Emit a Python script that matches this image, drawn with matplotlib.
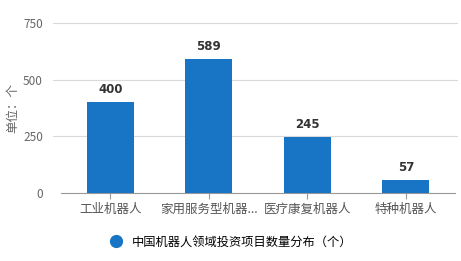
import matplotlib
matplotlib.use("Agg")
import matplotlib.pyplot as plt
from matplotlib.lines import Line2D
from matplotlib.transforms import blended_transform_factory

plt.rcParams['font.family'] = ['Noto Sans CJK SC', 'DejaVu Sans']

categories = ["工业机器人", "家用服务型机器...", "医疗康复机器人", "特种机器人"]
values = [400, 589, 245, 57]
yticks = [0, 250, 500, 750]
series_name = "中国机器人领域投资项目数量分布（个）"
bar_color = "#1874c5"

fig = plt.figure(figsize=(4.61, 2.61), dpi=100)
ax = fig.add_axes([61 / 461, 68 / 261, 394 / 461, 170 / 261])

x = range(len(categories))
ax.bar(x, values, width=0.48, color=bar_color, zorder=3)
for xi, v in zip(x, values):
    ax.text(xi, v + 28, str(v), ha='center', va='bottom', fontsize=8.5,
            fontweight='bold', color='#333333', family='DejaVu Sans')

ax.set_xlim(-0.5, len(categories) - 0.5)
ax.set_ylim(0, 750)
ax.set_yticks(yticks)
ax.set_yticklabels([str(t) for t in yticks], fontsize=8.5, color='#666666')
ax.set_xticks(list(x))
ax.set_xticklabels(categories, fontsize=9, color='#555555')

# horizontal grid lines that run slightly past the left edge of the axes
trans = blended_transform_factory(ax.transAxes, ax.transData)
for t in yticks[1:]:
    ax.add_line(Line2D([-0.02, 1.005], [t, t], transform=trans, color='#d9d9d9',
                       linewidth=0.8, zorder=0, clip_on=False))

for s in ['top', 'right', 'left']:
    ax.spines[s].set_visible(False)
ax.spines['bottom'].set_color('#999999')
ax.tick_params(axis='y', length=0, pad=13)
ax.tick_params(axis='x', length=4, color='#999999', pad=3)
ax.set_ylabel("单位：个", fontsize=9, color='#666666', labelpad=3)

handle = Line2D([], [], marker='o', linestyle='none', markersize=8.5,
                markerfacecolor=bar_color, markeredgecolor=bar_color)
fig.legend([handle], [series_name], loc='center', bbox_to_anchor=(228 / 461, 1 - 242 / 261),
           frameon=False, fontsize=8.8, handletextpad=0.3, borderaxespad=0)

fig.savefig("out.png", dpi=100)
